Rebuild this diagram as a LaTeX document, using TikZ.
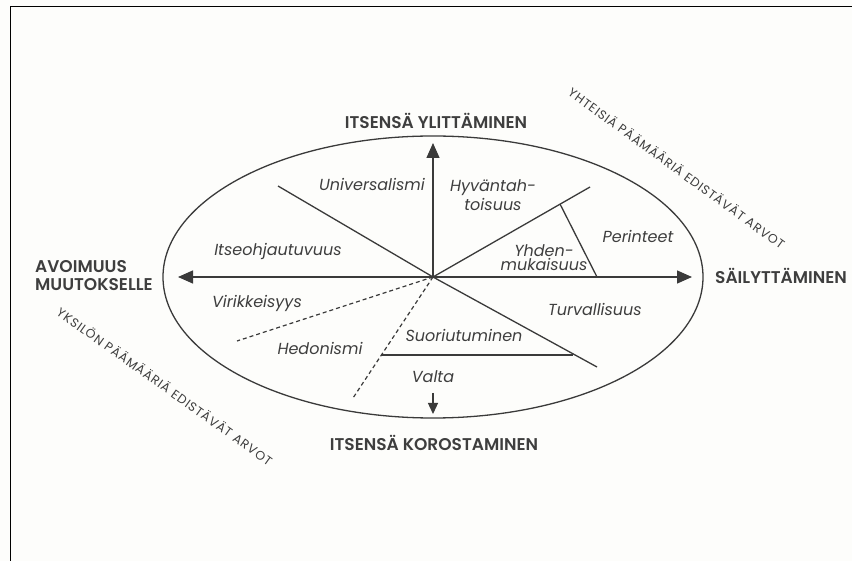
\documentclass[tikz,border=0pt]{standalone}
\usepackage{fontspec}
\setmainfont{Poppins}[BoldFont={Poppins SemiBold}]
\newfontfamily\goalfont{Poppins}[LetterSpace=7]
\usetikzlibrary{arrows.meta}

\definecolor{ink}{RGB}{58,58,58}
\definecolor{txt}{RGB}{62,62,62}
\definecolor{paper}{RGB}{253,253,251}

\begin{document}
\begin{tikzpicture}[x=1pt,y=-1pt,
  line/.style={draw=ink, line width=1.3pt},
  dline/.style={draw=ink, line width=1.2pt, dash pattern=on 4pt off 3pt},
  arrowline/.style={line, -{Triangle[length=15pt,width=13pt]}},
  smallarrow/.style={line, -{Triangle[length=11pt,width=10pt]}},
  pole/.style={text=txt, font=\fontsize{17}{19}\selectfont\bfseries, inner sep=0pt},
  value/.style={text=txt, font=\fontsize{16}{17}\selectfont\itshape, inner sep=0pt, align=center},
  goal/.style={text=txt, font=\goalfont\fontsize{12.5}{14}\selectfont, inner sep=0pt},
  frameline/.style={draw=black, line width=1.8pt}
]
% page and frame
\fill[paper] (0,0) rectangle (852,561);
\useasboundingbox (0,0) rectangle (852,561);
\draw[frameline] (10.5,561) -- (10.5,6.5) -- (852,6.5);

% circumplex outline
\coordinate (O) at (433,277);
\draw[line] (O) ellipse [x radius=270pt, y radius=141pt];

% end points of the dividing lines
\coordinate (ul) at (278,186);
\coordinate (ur) at (590,187);
\coordinate (urA) at (560,204);
\coordinate (urB) at (597,277);
\coordinate (lr) at (597,367);
\coordinate (lrA) at (381,355);
\coordinate (lrB) at (573,355);
\coordinate (dl) at (237,341);
\coordinate (dd) at (353,398);

% main axes
\coordinate (west) at (178,277);
\coordinate (east) at (692,277);
\coordinate (north) at (433,143);
\coordinate (southA) at (433,393);
\coordinate (southB) at (433,414);
\draw[arrowline] (O) -- (west);
\draw[arrowline] (O) -- (east);
\draw[arrowline] (O) -- (north);
\draw[smallarrow] (southA) -- (southB);

% sector boundaries
\draw[line] (O) -- (ul);
\draw[line] (O) -- (ur);
\draw[line] (urA) -- (urB);
\draw[line] (O) -- (lr);
\draw[line] (lrA) -- (lrB);
\draw[dline] (O) -- (dl);
\draw[dline] (O) -- (dd);

% higher-order dimensions
\node[pole] (up) at (436,121) {ITSENSÄ YLITTÄMINEN};
\node[pole] (down) at (434,443) {ITSENSÄ KOROSTAMINEN};
\node[pole, anchor=west, align=left] (open) at (35,276) {AVOIMUUS\\[-1pt]MUUTOKSELLE};
\node[pole, anchor=west] (cons) at (715,276) {SÄILYTTÄMINEN};

% value types
\node[value] (univ) at (372,184) {Universalismi};
\node[value] (benev) at (493,195) {Hyväntah-\\[2pt]toisuus};
\node[value] (selfd) at (278,251) {Itseohjautuvuus};
\node[value] (conf) at (544,258) {Yhden-\\[-3pt]mukaisuus};
\node[value] (trad) at (638,236) {Perinteet};
\node[value] (stim) at (257,303) {Virikkeisyys};
\node[value] (sec) at (595,309) {Turvallisuus};
\node[value] (hed) at (320,348) {Hedonismi};
\node[value] (ach) at (464,335) {Suoriutuminen};
\node[value] (pow) at (433,377) {Valta};

% interest orientation
\node[goal, rotate=-36] (collective) at (677,168) {YHTEISIÄ PÄÄMÄÄRIÄ EDISTÄVÄT ARVOT};
\node[goal, rotate=-35.5] (individual) at (165,386) {YKSILÖN PÄÄMÄÄRIÄ EDISTÄVÄT ARVOT};
\end{tikzpicture}
\end{document}
